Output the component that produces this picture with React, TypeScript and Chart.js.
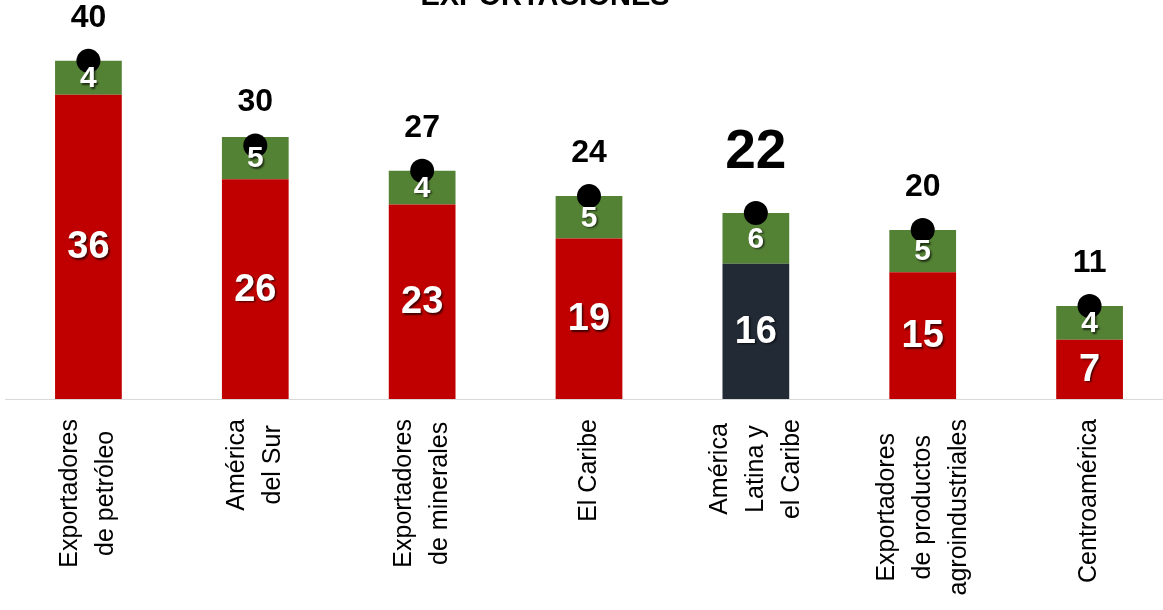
import { useEffect, useRef } from "react";
import { Chart, registerables } from "chart.js";

Chart.register(...registerables);

const categories: string[][] = [
  ["Exportadores", "de petróleo"],
  ["América", "del Sur"],
  ["Exportadores", "de minerales"],
  ["El Caribe"],
  ["América", "Latina y", "el Caribe"],
  ["Exportadores", "de productos", "agroindustriales"],
  ["Centroamérica"],
];
const baseValues = [36, 26, 23, 19, 16, 15, 7];
const growthValues = [4, 5, 4, 5, 6, 5, 4];
const totalValues = [40, 30, 27, 24, 22, 20, 11];
const highlightIndex = 4;
const chartTitle = "EXPORTACIONES";

const RED = "#C00000";
const NAVY = "#222A35";
const GREEN = "#548235";
const FONT = '"Liberation Sans", Arial, sans-serif';

const labelPlugin = {
  id: "customLabels",
  afterDatasetsDraw(chart: any) {
    const ctx = chart.ctx as CanvasRenderingContext2D;
    ctx.save();
    ctx.textAlign = "center";
    ctx.textBaseline = "middle";

    // segment labels
    [0, 1].forEach((di) => {
      const meta = chart.getDatasetMeta(di);
      meta.data.forEach((el: any, i: number) => {
        const v = chart.data.datasets[di].data[i];
        const p = el.getProps(["x", "y", "base"], true);
        ctx.save();
        ctx.font = `bold ${di === 0 ? 38 : 30}px ${FONT}`;
        ctx.fillStyle = "#ffffff";
        ctx.shadowColor = "rgba(0,0,0,0.65)";
        ctx.shadowOffsetX = 1.5;
        ctx.shadowOffsetY = 1.5;
        ctx.shadowBlur = 2;
        ctx.fillText(String(v), p.x, (p.y + p.base) / 2 + 1);
        ctx.restore();
      });
    });

    // total labels
    const tm = chart.getDatasetMeta(2);
    tm.data.forEach((el: any, i: number) => {
      const p = el.getProps(["x", "y"], true);
      const big = i === highlightIndex;
      ctx.font = `bold ${big ? 55 : 32}px ${FONT}`;
      ctx.fillStyle = "#000000";
      ctx.fillText(String(totalValues[i]), p.x, p.y - (big ? 60 : 43));
    });

    // x category labels
    const xs = chart.scales.x;
    const axisY = chart.chartArea.bottom;
    ctx.font = `25px ${FONT}`;
    ctx.fillStyle = "#000000";
    categories.forEach((lines, i) => {
      const x = xs.getPixelForValue(i);
      const maxW = Math.max(...lines.map((l) => ctx.measureText(l).width));
      const cy = axisY + 20 + maxW / 2;
      ctx.save();
      ctx.translate(x, cy);
      ctx.rotate(-Math.PI / 2);
      lines.forEach((l, k) => {
        ctx.fillText(l, 0, (k - (lines.length - 1) / 2) * 36);
      });
      ctx.restore();
    });

    // title (cut at top)
    ctx.font = `bold 29px ${FONT}`;
    ctx.textBaseline = "alphabetic";
    ctx.fillText(chartTitle, 545, 5);
    ctx.restore();
  },
};

export default function App() {
  const ref = useRef<HTMLCanvasElement | null>(null);

  useEffect(() => {
    document.body.style.margin = "0";
    if (!ref.current) return;
    const chart = new Chart(ref.current, {
      type: "bar",
      data: {
        labels: categories,
        datasets: [
          {
            type: "bar",
            data: baseValues,
            backgroundColor: baseValues.map((_, i) => (i === highlightIndex ? NAVY : RED)),
            borderWidth: 0,
            barPercentage: 0.4,
            categoryPercentage: 1,
            stack: "s",
            order: 1,
          },
          {
            type: "bar",
            data: growthValues,
            backgroundColor: GREEN,
            borderWidth: 0,
            barPercentage: 0.4,
            categoryPercentage: 1,
            stack: "s",
            order: 1,
          },
          {
            type: "line",
            data: totalValues,
            showLine: false,
            pointRadius: 12,
            pointHoverRadius: 12,
            pointBackgroundColor: "#000000",
            pointBorderWidth: 0,
            borderColor: "#000000",
            stack: "totals",
            order: 0,
          } as any,
        ],
      },
      options: {
        responsive: false,
        animation: false,
        layout: { autoPadding: false, padding: { left: 5, right: 0, top: 0, bottom: 211 } },
        plugins: {
          legend: { display: false },
          title: { display: false },
          tooltip: { enabled: false },
        },
        scales: {
          x: {
            stacked: true,
            grid: { display: false, drawTicks: false },
            border: { display: true, color: "#D9D9D9", width: 1 },
            ticks: { display: false },
          },
          y: {
            stacked: true,
            display: false,
            min: 0,
            max: 47.2,
          },
        },
      },
      plugins: [labelPlugin],
    });
    return () => chart.destroy();
  }, []);

  return (
    <div style={{ width: 1163, height: 610, overflow: "hidden", position: "relative" }}>
      <canvas ref={ref} width={1173} height={610} style={{ display: "block" }} />
    </div>
  );
}
